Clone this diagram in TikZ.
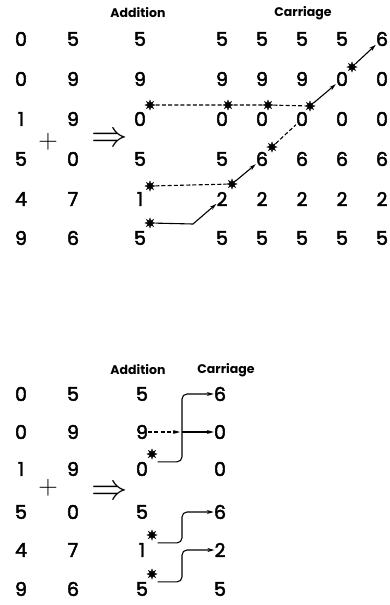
\documentclass[tikz,border=0pt]{standalone}
\usepackage{fontspec}
\setmainfont{Poppins}
\newfontfamily\digfont{Poppins}[FakeBold=2.5]
\usepackage{tikz}
\usetikzlibrary{arrows.meta,shapes.geometric}

\begin{document}
\begin{tikzpicture}[
    x=1pt,y=-1pt,
    dig/.style={inner sep=0pt,font=\fontsize{19}{19}\digfont},
    head/.style={inner sep=0pt,font=\fontsize{12.5}{12.5}\selectfont\bfseries},
    sym/.style={inner sep=0pt,font=\fontsize{20}{20}\selectfont},
    ast/.style={star,star points=8,star point ratio=2.2,fill,draw,line width=0.4pt,inner sep=0pt,minimum size=10pt},
    link/.style={line width=1.1pt},
    carry/.style={line width=1.1pt,dash pattern=on 4pt off 2.2pt},
    >={Stealth[length=7pt,width=4pt]}
  ]
    \useasboundingbox (0,0) rectangle (389,605);

    % upper table
    \node[head] (taddh) at (138,13) {Addition};
    \node[head] (tcarh) at (303,13) {Carriage};
    \foreach \r/\yy/\a/\b/\s/\pA/\pB/\pC/\pD/\pE in {0/39/0/5/5/5/5/5/5/6,1/79/0/9/9/9/9/9/0/0,2/119/1/9/0/0/0/0/0/0,3/159/5/0/5/5/6/6/6/6,4/199/4/7/1/2/2/2/2/2,5/238/9/6/5/5/5/5/5/5} {
      \node[dig] (t-\r-a) at (21,\yy) {\a};
      \node[dig] (t-\r-b) at (73,\yy) {\b};
      \node[dig] (t-\r-s) at (140,\yy) {\s};
      \node[dig] (t-\r-0) at (222,\yy) {\pA};
      \node[dig] (t-\r-1) at (262,\yy) {\pB};
      \node[dig] (t-\r-2) at (302,\yy) {\pC};
      \node[dig] (t-\r-3) at (342,\yy) {\pD};
      \node[dig] (t-\r-4) at (382,\yy) {\pE};
    }
    \node[sym] (tplus) at (48,142) {\scalebox{1.3}{$+$}};
    \node[sym] (timp) at (110,140) {\scalebox{1.75}{$\Rightarrow$}};

    \node[ast] (t2s) at ([shift={(10pt,14pt)}]t-2-s.center) {};
    \node[ast] (t20s) at ([shift={(6pt,14pt)}]t-2-0.center) {};
    \node[ast] (t21s) at ([shift={(6pt,14pt)}]t-2-1.center) {};
    \node[ast] (t22s) at ([shift={(8pt,13pt)}]t-2-2.center) {};
    \node[ast] (t13s) at ([shift={(10pt,12pt)}]t-1-3.center) {};
    \node[ast] (t31s) at ([shift={(10pt,12pt)}]t-3-1.center) {};
    \node[ast] (t4s) at ([shift={(10pt,13pt)}]t-4-s.center) {};
    \node[ast] (t40s) at ([shift={(10pt,15pt)}]t-4-0.center) {};
    \node[ast] (t5s) at ([shift={(10pt,15pt)}]t-5-s.center) {};

    \draw[carry] (t2s) -- (t20s) -- (t21s) -- (t22s);
    \draw[link,->] (t22s) -- (t-1-3);
    \draw[link,->] (t13s) -- (t-0-4);
    \draw[carry] (t31s) -- (t-2-2);
    \draw[carry] (t4s) -- (t40s);
    \draw[link,->] (t40s) -- (t-3-1);
    \draw[link,->] (t5s) -- ++(43,1) -- (t-4-0);

    % lower table
    \node[head] (baddh) at (138,370) {Addition};
    \node[head] (bcarh) at (226,370) {Carriage};
    \foreach \r/\yy/\a/\b/\s/\pA in {0/394/0/5/5/6,1/432/0/9/9/0,2/469/1/9/0/0,3/512/5/0/5/6,4/550/4/7/1/2,5/589/9/6/5/5} {
      \node[dig] (b-\r-a) at (21,\yy) {\a};
      \node[dig] (b-\r-b) at (73,\yy) {\b};
      \node[dig] (b-\r-s) at (142,\yy) {\s};
      \node[dig] (b-\r-c) at (220,\yy) {\pA};
    }
    \node[sym] (bplus) at (48,488) {\scalebox{1.3}{$+$}};
    \node[sym] (bimp) at (110,493) {\scalebox{1.75}{$\Rightarrow$}};

    \node[ast] (b2s) at ([shift={(10pt,15pt)}]b-2-s.center) {};
    \node[ast] (b4s) at ([shift={(10pt,15pt)}]b-4-s.center) {};
    \node[ast] (b5s) at ([shift={(10pt,15pt)}]b-5-s.center) {};
    \coordinate (bus) at (182,0);

    \draw[carry,->,shorten >=2pt] (b-1-s) -- (bus |- b-1-s);
    \draw[link,->,rounded corners=5pt] (b2s.east |- b-2-s.north) -| (bus |- b-0-c) -- (b-0-c);
    \draw[link,->] (bus |- b-1-c) -- (b-1-c);
    \draw[link,->,rounded corners=5pt] (b4s.east |- b-4-s.north) -| (bus |- b-3-c) -- (b-3-c);
    \draw[link,->,rounded corners=5pt] (b5s.east |- b-5-s.north) -| (bus |- b-4-c) -- (b-4-c);
  \end{tikzpicture}
\end{document}
